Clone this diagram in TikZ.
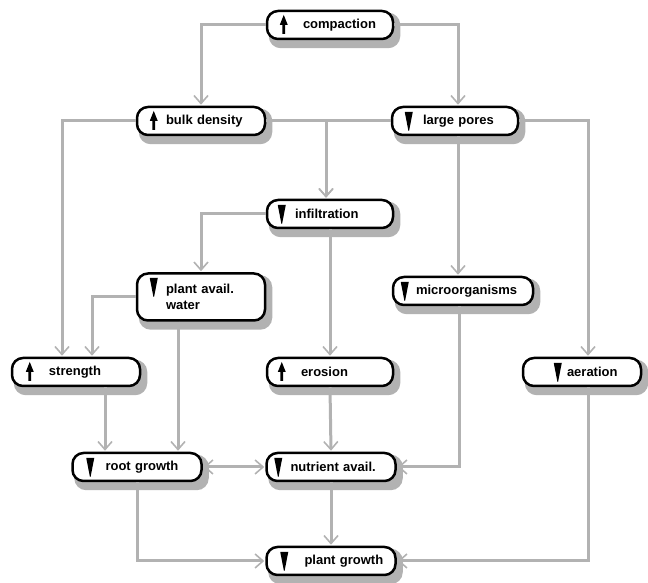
\documentclass[tikz,border=0pt]{standalone}
\usepackage{fontspec}
\setmainfont{Liberation Sans}
\usetikzlibrary{arrows.meta,calc,backgrounds}
\tikzset{
  mytip/.tip={Straight Barb[length=8pt,width=14pt,line width=1.6pt]},
  box/.style={draw, line width=2.5pt, rounded corners=11pt, fill=white,
    inner xsep=0pt, inner ysep=0pt, minimum height=28pt, align=left,
    font=\fontsize{13}{15.5}\selectfont\bfseries},
  boxshadow/.style={fill=gray!60, rounded corners=12pt},
  conn/.style={draw=gray!60, line width=3pt, -mytip, shorten >=1pt},
  conn2/.style={draw=gray!60, line width=3pt, mytip-mytip, shorten >=1pt, shorten <=1pt},
  upmark/.pic={\fill (-1.4,-9) -- (-1.4,0) -- (-4,0) -- (0,10) -- (4,0) -- (1.4,0) -- (1.4,-9) -- cycle;},
  downmark/.pic={\fill (-4,9) -- (4,9) -- (0.3,-10) -- (-0.3,-10) -- cycle;}
}
\begin{document}
\begin{tikzpicture}[x=1pt,y=1pt]
\useasboundingbox (0,0) rectangle (648,583);
\node[box, text width=126pt] (comp) at (330,558) {\hspace*{36pt}compaction};
\node[box, text width=128pt] (bulk) at (201,462) {\hspace*{29pt}bulk density};
\node[box, text width=126pt] (large) at (455,462) {\hspace*{31pt}large pores};
\node[box, text width=126pt] (infil) at (330,369) {\hspace*{28pt}infiltration};
\node[box, text width=128pt, minimum height=47pt] (paw) at (201,286) {\hspace*{29pt}plant avail.\\\hspace*{29pt}water};
\node[box, text width=140pt] (micro) at (463,292) {\hspace*{23pt}microorganisms};
\node[box, text width=128pt] (strength) at (76,211) {\hspace*{37pt}strength};
\node[box, text width=126pt] (eros) at (330,211) {\hspace*{34pt}erosion};
\node[box, text width=118pt] (aer) at (582,211) {\hspace*{44pt}aeration};
\node[box, text width=129pt] (root) at (137,116) {\hspace*{33pt}root growth};
\node[box, text width=129pt] (nut) at (331,116) {\hspace*{24pt}nutrient avail.};
\node[box, text width=129pt] (pg) at (331,22) {\hspace*{38pt}plant growth};

\begin{scope}[on background layer]
\foreach \n in {comp,bulk,large,infil,paw,micro,strength,eros,aer,root,nut,pg}
  \fill[boxshadow] ([shift={(3pt,-8pt)}]\n.south west) rectangle ([shift={(6pt,-3pt)}]\n.north east);
\end{scope}

\pic at ([xshift=18pt]comp.west) {upmark};
\pic at ([xshift=18pt]bulk.west) {upmark};
\pic at ([xshift=18pt]large.west) {downmark};
\pic at ([xshift=16pt]infil.west) {downmark};
\pic at ([xshift=18pt,yshift=10pt]paw.west) {downmark};
\pic at ([xshift=13pt]micro.west) {downmark};
\pic at ([xshift=19pt]strength.west) {upmark};
\pic at ([xshift=16pt]eros.west) {upmark};
\pic at ([xshift=36pt]aer.west) {downmark};
\pic at ([xshift=19pt]root.west) {downmark};
\pic at ([xshift=13pt]nut.west) {downmark};
\pic at ([xshift=19pt]pg.west) {downmark};

\draw[conn] (comp.west) -| (bulk.north);
\draw[conn] (comp.east) -| ([xshift=3pt]large.north);
\draw[conn] (bulk.west) -| ([xshift=-14pt]strength.north);
\draw[conn] (bulk.east) -| ([xshift=-4pt]infil.north);
\draw[conn] (large.west) -| ([xshift=-4pt]infil.north);
\draw[conn] ([xshift=3pt]large.south) -- ([xshift=3pt]large.south |- micro.north);
\draw[conn] (large.east) -| ([xshift=6pt]aer.north);
\draw[conn] (infil.west) -| (paw.north);
\draw[conn] (infil.south) -- (eros.north);
\draw[conn] (paw.west) -| ([xshift=16pt]strength.north);
\draw[conn] ([xshift=-23pt]paw.south) -- ([xshift=-23pt]paw.south |- root.north);
\draw[conn] ([xshift=29pt]strength.south) -- ([xshift=29pt]strength.south |- root.north);
\draw[conn] (eros.south) -- (nut.north);
\draw[conn] ([xshift=-4pt]micro.south) |- (nut.east);
\draw[conn2] (root.east) -- (nut.west);
\draw[conn] (root.south) |- (pg.west);
\draw[conn] (nut.south) -- (pg.north);
\draw[conn] ([xshift=6pt]aer.south) |- (pg.east);
\end{tikzpicture}
\end{document}
